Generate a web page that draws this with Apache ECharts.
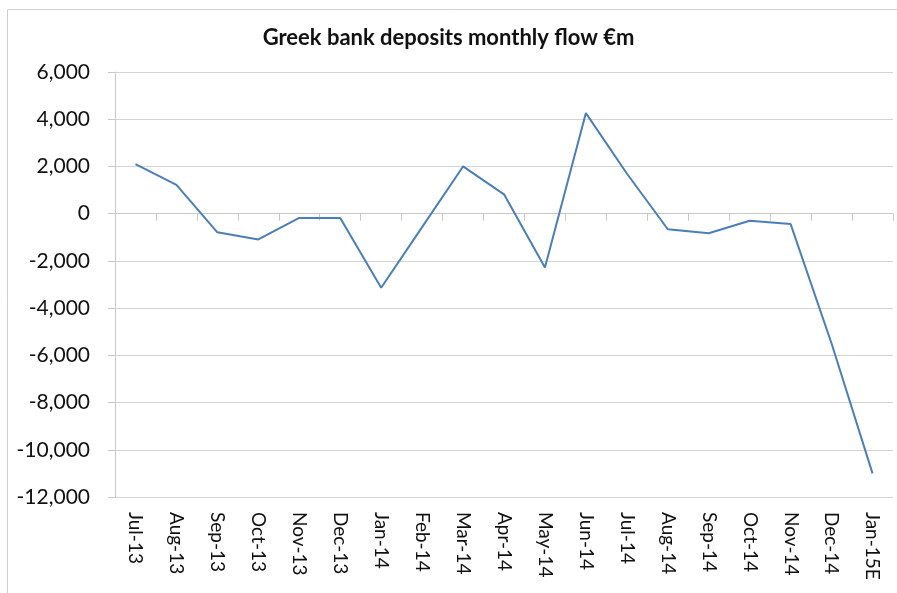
<!DOCTYPE html>
<html>
<head>
<meta charset="utf-8">
<script src="https://cdn.jsdelivr.net/npm/echarts@6/dist/echarts.min.js"></script>
<style>
html,body{margin:0;padding:0;background:#fff;}
#c{width:897px;height:593px;}
</style>
</head>
<body>
<div id="c"></div>
<script>
var categories = ['Jul-13','Aug-13','Sep-13','Oct-13','Nov-13','Dec-13','Jan-14','Feb-14','Mar-14','Apr-14','May-14','Jun-14','Jul-14','Aug-14','Sep-14','Oct-14','Nov-14','Dec-14','Jan-15E'];
var flows = [2100, 1220, -790, -1090, -180, -180, -3140, -570, 2000, 820, -2280, 4260, 1700, -660, -830, -300, -440, -5500, -11000];
var yTicks = {min: -12000, max: 6000, interval: 2000};

var chart = echarts.init(document.getElementById('c'));
var font = 'Lato, "Open Sans", "Liberation Sans", sans-serif';
chart.setOption({
  animation: false,
  backgroundColor: '#fff',
  title: {
    text: 'Greek bank deposits monthly flow €m',
    left: 'center',
    top: 22,
    textStyle: {fontFamily: font, fontWeight: 'bold', fontSize: 22, color: '#111'}
  },
  graphic: [{
    type: 'rect',
    shape: {x: 7.5, y: 9.5, width: 1000, height: 1000},
    style: {fill: 'none', stroke: '#d0d0d0', lineWidth: 1},
    silent: true
  }],
  grid: {left: 115, right: 4, top: 72, bottom: 96},
  xAxis: [{
    type: 'category',
    data: categories,
    position: 'bottom',
    boundaryGap: true,
    axisLine: {show: false, onZero: false},
    axisTick: {show: false},
    axisLabel: {rotate: -90, margin: 15, fontSize: 19, color: '#111', fontFamily: font, interval: 0}
  }, {
    type: 'category',
    data: categories,
    position: 'top',
    boundaryGap: true,
    axisLine: {show: true, onZero: true, lineStyle: {color: '#c8c8c8', width: 1}},
    axisTick: {show: true, inside: true, length: 7, interval: 0, lineStyle: {color: '#c8c8c8'}},
    axisLabel: {show: false}
  }],
  yAxis: {
    type: 'value',
    min: yTicks.min,
    max: yTicks.max,
    interval: yTicks.interval,
    axisLine: {show: true, lineStyle: {color: '#c8c8c8'}},
    axisTick: {show: true, length: 7, lineStyle: {color: '#c8c8c8'}},
    splitLine: {show: true, lineStyle: {color: '#d4d4d4', width: 1}},
    axisLabel: {
      fontSize: 21, color: '#111', fontFamily: font, margin: 25,
      formatter: function (v) { return v.toLocaleString('en-US'); }
    }
  },
  series: [{
    type: 'line',
    data: flows,
    xAxisIndex: 0,
    symbol: 'none',
    lineStyle: {color: '#4a7ebb', width: 2}
  }]
});
</script>
</body>
</html>
